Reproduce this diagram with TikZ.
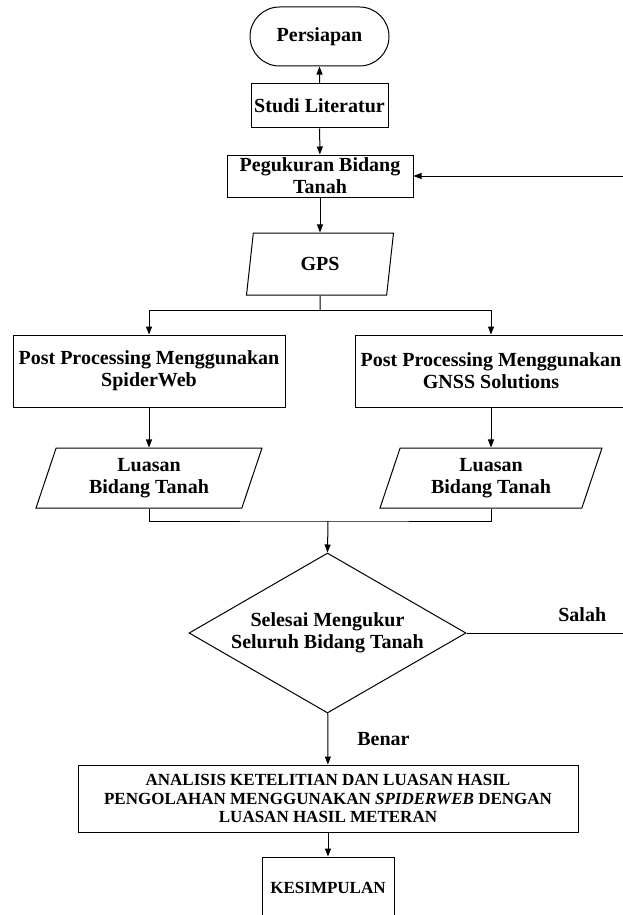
\documentclass[tikz,border=0pt]{standalone}
\usepackage{fontspec}
\setmainfont{Liberation Serif}
\usetikzlibrary{arrows.meta,shapes.geometric,shapes.misc}

\begin{document}
\begin{tikzpicture}[x=1pt,y=-1pt,line width=1pt,
		every node/.style={font=\bfseries\fontsize{20}{22}\selectfont,align=center,inner sep=0pt},
		terminal/.style={draw,rounded rectangle},
		prosesbox/.style={draw,rectangle},
		databox/.style={draw,trapezium,trapezium left angle=63,trapezium right angle=117,trapezium stretches body},
		keputusan/.style={draw,diamond,aspect=1.73},
		kecil/.style={font=\bfseries\fontsize{17}{18.5}\selectfont},
		panah/.style={-{Triangle[length=8pt,width=6pt]}}]
				\useasboundingbox (0,0) rectangle (622,915);
				\node[terminal,minimum width=139,minimum height=59] (persiapan) at (319.5,36.5) {Persiapan};
				\node[prosesbox,minimum width=137,minimum height=44] (studi) at (319.5,106) {Studi Literatur};
				\node[prosesbox,minimum width=186,minimum height=42] (pengukuran) at (320,176) {Pegukuran Bidang\\Tanah};
				\node[databox,minimum width=147,minimum height=62] (gps) at (320,264) {GPS};
				\node[prosesbox,minimum width=272,minimum height=72] (spider) at (149,371) {Post Processing Menggunakan\\SpiderWeb};
				\node[prosesbox,minimum width=272,minimum height=72] (gnss) at (491,371) {Post Processing Menggunakan\\GNSS Solutions};
				\node[databox,minimum width=226,minimum height=60] (luasA) at (149,478) {Luasan\\Bidang Tanah};
				\node[databox,minimum width=222,minimum height=60] (luasB) at (491,478) {Luasan\\Bidang Tanah};
				\node[keputusan,minimum width=277,minimum height=160] (selesai) at (327.5,633) {Selesai Mengukur\\Seluruh Bidang Tanah};
				\node[prosesbox,kecil,minimum width=500,minimum height=67] (analisis) at (328,798.5) {ANALISIS KETELITIAN DAN LUASAN HASIL\\PENGOLAHAN MENGGUNAKAN \textit{SPIDERWEB} DENGAN\\LUASAN HASIL METERAN};
				\node[prosesbox,kecil,minimum width=132,minimum height=62] (kesimpulan) at (328,888) {KESIMPULAN};
				\coordinate (cabang) at (320,310);
				\coordinate (gabung) at (328,521);
				\coordinate (balik) at (640,633);

				\draw[panah] (studi) -- (persiapan);
				\draw[panah] (studi) -- (pengukuran);
				\draw[panah] (pengukuran) -- (gps);
				\draw (gps.south) -- (cabang);
				\draw[panah] (cabang) -| (spider.north);
				\draw[panah] (cabang) -| (gnss.north);
				\draw[panah] (spider) -- (luasA);
				\draw[panah] (gnss) -- (luasB);
				\draw (luasA.south) |- (gabung) -| (luasB.south);
				\draw[panah] (gabung) -- (selesai.north);
				\draw[panah] (selesai) -- node[right=29pt]{Benar} (analisis);
				\draw[panah] (analisis) -- (kesimpulan);
				\draw[panah] (selesai.east) -- node[pos=0.667,above=11pt]{Salah} (balik) |- (pengukuran.east);
\end{tikzpicture}
\end{document}
